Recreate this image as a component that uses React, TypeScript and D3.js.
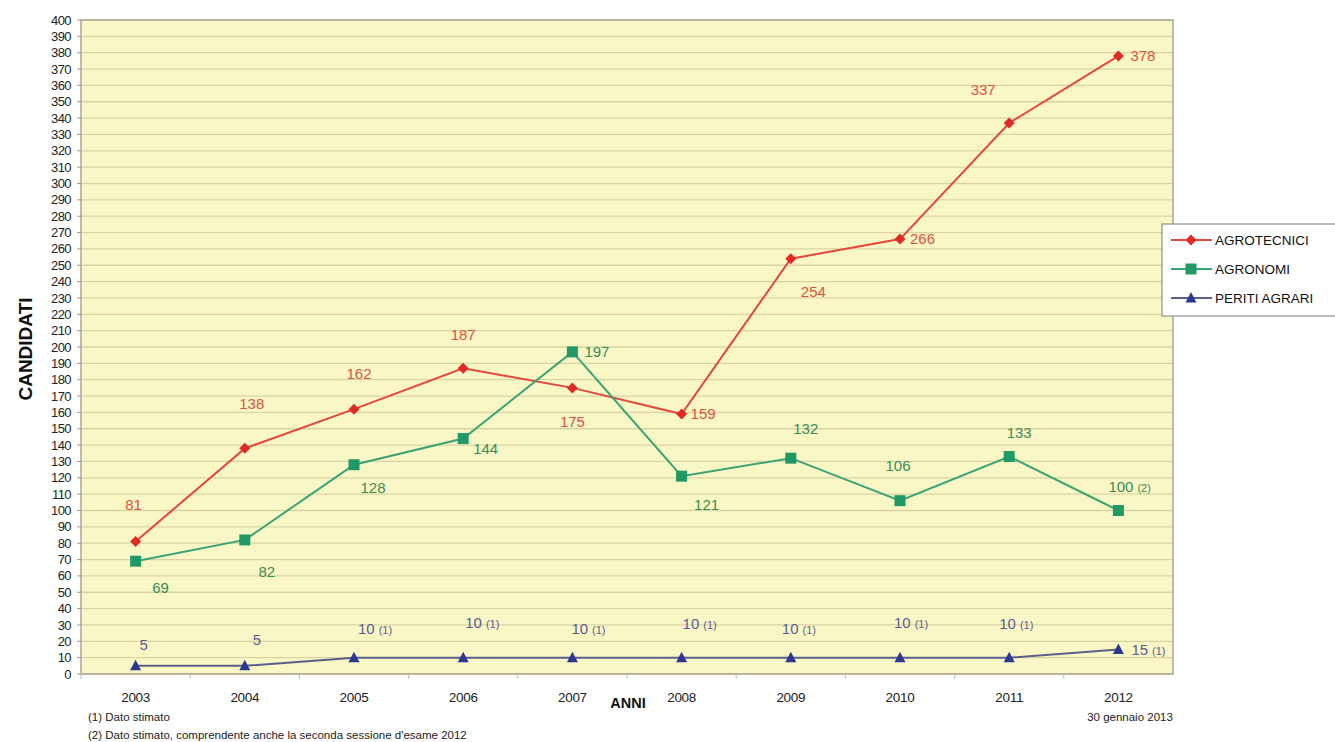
import React from "react";
import * as d3 from "d3";

const years = ["2003", "2004", "2005", "2006", "2007", "2008", "2009", "2010", "2011", "2012"];
const agrotecnici = [81, 138, 162, 187, 175, 159, 254, 266, 337, 378];
const agronomi = [69, 82, 128, 144, 197, 121, 132, 106, 133, 100];
const periti = [5, 5, 10, 10, 10, 10, 10, 10, 10, 15];
const agronomiNotes = ["", "", "", "", "", "", "", "", "", "(2)"];
const peritiNotes = ["", "", "(1)", "(1)", "(1)", "(1)", "(1)", "(1)", "(1)", "(1)"];
const yTicks = d3.range(0, 401, 10);
const seriesNames = ["AGROTECNICI", "AGRONOMI", "PERITI AGRARI"];

// label placement (dx, dy, anchor) relative to each point
type Lp = [number, number, string];
const agroLab: Lp[] = [[-2, -37, "middle"], [7, -45, "middle"], [5, -35, "middle"], [0, -34, "middle"], [0, 34, "middle"], [9, 0, "start"], [10, 33, "start"], [10, 0, "start"], [-26, -33, "middle"], [12, 0, "start"]];
const agronLab: Lp[] = [[25, 27, "middle"], [22, 32, "middle"], [19, 23, "middle"], [10, 10, "start"], [12, 0, "start"], [25, 29, "middle"], [15, -29, "middle"], [-2, -35, "middle"], [10, -24, "middle"], [-10, -24, "start"]];
const peritiLab: Lp[] = [[8, -21, "middle"], [12, -26, "middle"], [4, -29, "start"], [2, -35, "start"], [-1, -29, "start"], [1, -34, "start"], [-9, -29, "start"], [-6, -35, "start"], [-10, -34, "start"], [13, 0, "start"]];

const W = 1335, H = 742;
const L = 81, R = 1173, T = 20, B = 674;
const FONT = "'Liberation Sans', Arial, sans-serif";

export default function App() {
  const x = d3.scaleBand<string>().domain(years).range([L, R]);
  const xc = (i: number) => (x(years[i]) as number) + x.bandwidth() / 2;
  const y = d3.scaleLinear().domain([0, 400]).range([B, T]);

  const line = d3.line<number>().x((_, i) => xc(i)).y((d) => y(d));

  const series = [
    { name: seriesNames[0], data: agrotecnici, notes: years.map(() => ""), lab: agroLab, line: "#e4473c", mark: "#e02a24", text: "#e0523f", shape: "diamond" },
    { name: seriesNames[1], data: agronomi, notes: agronomiNotes, lab: agronLab, line: "#3aa374", mark: "#1f9a66", text: "#3b8c52", shape: "square" },
    { name: seriesNames[2], data: periti, notes: peritiNotes, lab: peritiLab, line: "#5b6088", mark: "#2b3791", text: "#5b5b92", shape: "triangle" },
  ];

  const marker = (shape: string, cx: number, cy: number, color: string, key: string) => {
    if (shape === "diamond") {
      const s = 5.5;
      return <path key={key} d={`M${cx},${cy - s}L${cx + s},${cy}L${cx},${cy + s}L${cx - s},${cy}Z`} fill={color} />;
    }
    if (shape === "square") {
      return <rect key={key} x={cx - 5.5} y={cy - 5.5} width={11} height={11} fill={color} />;
    }
    return <path key={key} d={`M${cx},${cy - 6}L${cx + 5.5},${cy + 4.5}L${cx - 5.5},${cy + 4.5}Z`} fill={color} />;
  };

  return (
    <svg width={W} height={H} style={{ position: "absolute", left: 0, top: 0, background: "#ffffff" }} fontFamily={FONT}>
      <rect x={0} y={0} width={W} height={H} fill="#ffffff" />
      {/* plot background */}
      <rect x={L} y={T} width={R - L} height={B - T} fill="#faf7c6" />
      {yTicks.map((t) => (
        <line key={"g" + t} x1={L} x2={R} y1={y(t)} y2={y(t)} stroke="#d9d3a2" strokeWidth={1.3} />
      ))}
      <rect x={L} y={T} width={R - L} height={B - T} fill="none" stroke="#a9a79a" strokeWidth={1.5} />
      {/* y ticks */}
      {yTicks.map((t) => (
        <g key={"yt" + t}>
          <line x1={L - 4} x2={L} y1={y(t)} y2={y(t)} stroke="#999" />
          <text x={71} y={y(t)} dy="0.35em" textAnchor="end" fontSize={13} fill="#222" style={{ letterSpacing: "-0.6px" }}>{t}</text>
        </g>
      ))}
      {/* x ticks */}
      {years.map((yr, i) => (
        <g key={"xt" + yr}>
          <line x1={(x(yr) as number)} x2={(x(yr) as number)} y1={B} y2={B + 5} stroke="#bbb" />
          <text x={xc(i)} y={697} dy="0.35em" textAnchor="middle" fontSize={13.5} fill="#222" style={{ letterSpacing: "-0.3px" }}>{yr}</text>
        </g>
      ))}
      <text x={628} y={703} dy="0.35em" textAnchor="middle" fontSize={14.5} fontWeight="bold" fill="#111">ANNI</text>
      <text transform={`translate(25,${(T + B) / 2 + 2}) rotate(-90)`} textAnchor="middle" dy="0.35em" fontSize={19} fontWeight="bold" fill="#111">CANDIDATI</text>
      <text x={88} y={717} dy="0.35em" fontSize={11.5} fill="#222">(1) Dato stimato</text>
      <text x={88} y={735} dy="0.35em" fontSize={11.5} fill="#222">(2) Dato stimato, comprendente anche la seconda sessione d'esame 2012</text>
      <text x={1130} y={717} dy="0.35em" textAnchor="middle" fontSize={11.5} fill="#222">30 gennaio 2013</text>

      {/* lines */}
      {series.map((s) => (
        <path key={"l" + s.name} d={line(s.data) as string} fill="none" stroke={s.line} strokeWidth={2} />
      ))}
      {series.map((s) => s.data.map((v, i) => marker(s.shape, xc(i), y(v), s.mark, s.name + i)))}
      {/* labels */}
      {series.map((s) =>
        s.data.map((v, i) => {
          const [dx, dy, anchor] = s.lab[i];
          return (
            <text key={"t" + s.name + i} x={xc(i) + dx} y={y(v) + dy} dy="0.35em" textAnchor={anchor} fontSize={15} fill={s.text}>
              {v}
              {s.notes[i] ? <tspan fontSize={11} dx={4}>{s.notes[i]}</tspan> : null}
            </text>
          );
        })
      )}

      {/* legend */}
      <g>
        <rect x={1162} y={224} width={190} height={92} fill="#ffffff" stroke="#8f8f8f" strokeWidth={1.2} />
        {series.map((s, i) => {
          const ly = 240 + i * 29;
          return (
            <g key={"lg" + s.name}>
              <line x1={1171} x2={1212} y1={ly} y2={ly} stroke={s.line} strokeWidth={2} />
              {marker(s.shape, 1191, ly, s.mark, "lm" + i)}
              <text x={1215} y={ly} dy="0.35em" fontSize={13.5} fill="#111">{s.name}</text>
            </g>
          );
        })}
      </g>
    </svg>
  );
}
